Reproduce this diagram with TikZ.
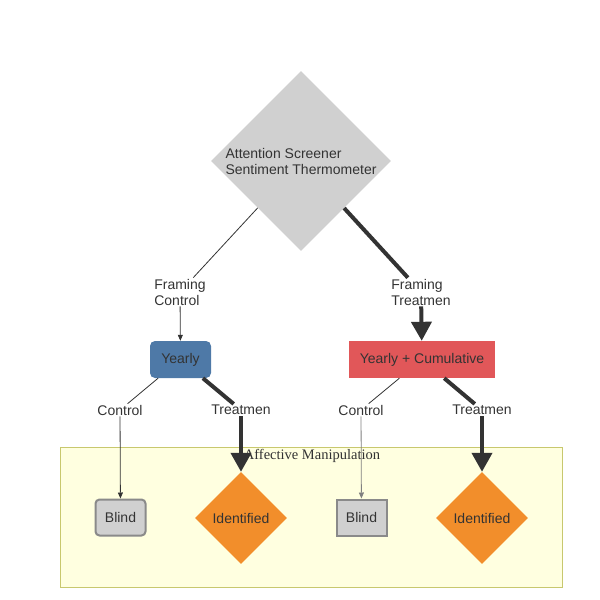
\documentclass[tikz,border=0pt]{standalone}
\usepackage{fontspec}
\setmainfont{Liberation Sans}
\newfontfamily\serifft{Liberation Serif}
\usetikzlibrary{shapes.geometric,arrows.meta}
\definecolor{txt}{HTML}{333333}
\definecolor{greyfill}{HTML}{D0D0D0}
\definecolor{bluefill}{HTML}{4E79A7}
\definecolor{redfill}{HTML}{E15759}
\definecolor{orangefill}{HTML}{F28E2B}
\definecolor{clusterfill}{HTML}{FFFFE0}
\definecolor{clusterdraw}{HTML}{C8C86E}
\definecolor{greyborder}{HTML}{8A8A8A}
\tikzset{
  base/.style={font=\fontsize{14}{16}\selectfont, text=txt},
  lblnf/.style={base, align=left, inner sep=1pt},
  dia/.style={base, diamond, aspect=1, inner sep=0pt, fill=#1},
  boxnode/.style={base, rectangle, inner sep=0pt, fill=#1},
  thin/.style={draw=txt, line width=0.8pt},
  thick/.style={draw=txt, line width=4pt},
  thinarrow/.style={thin, -{Triangle[width=5pt,length=6pt]}},
  thickarrow/.style={draw=txt, line width=4pt, -{Triangle[width=20pt,length=19pt]}},
}
\begin{document}
\begin{tikzpicture}[x=1pt,y=-1pt]
\useasboundingbox (0,0) rectangle (600,600);
% cluster
\draw[fill=clusterfill, draw=clusterdraw, line width=1pt] (60,447) rectangle (562,587);
\node[font=\serifft\fontsize{14.5}{16}\selectfont, text=txt, inner sep=0pt] (ctitle) at (312,456) {Affective Manipulation};

% nodes
\node[dia=greyfill, minimum width=180, minimum height=180, align=left] (top) at (301,161) {Attention Screener\\Sentiment Thermometer};
\node[lblnf] (fc) at (180,292) {Framing\\Control};
\node[lblnf] (ft) at (421,292) {Framing\\Treatmen};
\node[boxnode=bluefill, rounded corners=5pt, minimum width=61, minimum height=37] (yearly) at (180.5,359.5) {Yearly};
\node[boxnode=redfill, minimum width=146, minimum height=37] (yc) at (422,359.5) {Yearly + Cumulative};
\node[lblnf] (c1) at (120,410) {Control};
\node[lblnf] (t1) at (241,410) {Treatmen};
\node[lblnf] (c2) at (361,410) {Control};
\node[lblnf] (t2) at (482,410) {Treatmen};
\node[boxnode=greyfill, draw=greyborder, line width=2pt, rounded corners=4pt, minimum width=50, minimum height=36] (b1) at (120.5,517.5) {Blind};
\node[dia=orangefill, minimum width=92, minimum height=92] (i1) at (241,518) {Identified};
\node[boxnode=greyfill, draw=greyborder, line width=2pt, minimum width=50, minimum height=36] (b2) at (361.5,517.5) {Blind};
\node[dia=orangefill, minimum width=92, minimum height=92] (i2) at (482,518) {Identified};

% edges
\draw[thin] (top) -- (fc);
\draw[thinarrow] (fc) -- (yearly);
\draw[thick] (top) -- (ft);
\draw[thickarrow] (ft) -- (yc);
\draw[thin] (yearly) -- (c1);
\draw[thick] (yearly) -- (t1);
\draw[thin] (yc) -- (c2);
\draw[thick] (yc) -- (t2);
\draw[thinarrow] (c1) -- (b1);
\draw[thickarrow] (t1) -- (i1.north);
\draw[thinarrow, draw=gray, -{Triangle[width=5pt,length=6pt]}] (c2) -- (b2);
\draw[thickarrow] (t2) -- (i2.north);
\end{tikzpicture}
\end{document}
